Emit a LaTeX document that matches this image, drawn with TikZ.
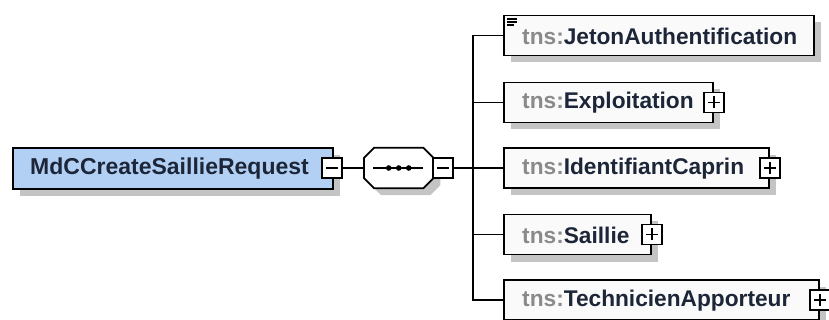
\documentclass[tikz,border=0pt]{standalone}
\usepackage{fontspec}
\setmainfont{Liberation Sans}
\usetikzlibrary{calc}
\definecolor{boxblue}{HTML}{B2D0F4}
\definecolor{shadowgray}{HTML}{C4C4C4}
\definecolor{navy}{HTML}{1C2638}
\definecolor{nsgray}{HTML}{8A8A8A}
\definecolor{childfill}{HTML}{FAFAFA}
\tikzset{
  x=1pt, y=-1pt,
  shadowed/.style={preaction={fill=shadowgray, transform canvas={shift={(7pt,-7pt)}}}},
  mainbox/.style={draw=black, line width=1.8pt, fill=boxblue, shadowed, minimum height=41pt, inner sep=0pt, anchor=west},
  childbox/.style={draw=black, line width=1.8pt, fill=childfill, shadowed, minimum height=40pt, inner sep=0pt, anchor=west},
  lbl/.style={anchor=west, inner sep=0pt, font=\bfseries\fontsize{22.7}{25}\selectfont, text=navy},
  pm/.style={draw=black, line width=1.6pt, fill=white, minimum size=20pt, inner sep=0pt},
  pmline/.style={line width=1.6pt},
  conn/.style={line width=1.8pt},
}
\newcommand{\ns}{\textcolor{nsgray}{tns:}}
\begin{document}
\begin{tikzpicture}
\useasboundingbox (0,0) rectangle (829,320);
% main element
\node[mainbox, minimum width=320pt] (main) at (12,168.5) {};
\node[lbl, font=\bfseries\fontsize{23}{25}\selectfont] (mainlbl) at (30,168.5) {MdCCreateSaillieRequest};
\node[pm] (mainpm) at (332,168) {};
\draw[pmline] ([xshift=-6pt]mainpm.center) -- ([xshift=6pt]mainpm.center);
% sequence compartment
\node[minimum width=69pt, minimum height=40pt, inner sep=0pt, anchor=west] (seq) at (364,168) {};
\fill[shadowgray, transform canvas={shift={(7pt,-7pt)}}]
  ([xshift=10pt]seq.north west) -- ([xshift=-10pt]seq.north east) -- ([yshift=-10pt]seq.north east) -- ([yshift=10pt]seq.south east) -- ([xshift=-10pt]seq.south east) -- ([xshift=10pt]seq.south west) -- ([yshift=10pt]seq.south west) -- ([yshift=-10pt]seq.north west) -- cycle;
\draw[line width=1.8pt, fill=white]
  ([xshift=10pt]seq.north west) -- ([xshift=-10pt]seq.north east) -- ([yshift=-10pt]seq.north east) -- ([yshift=10pt]seq.south east) -- ([xshift=-10pt]seq.south east) -- ([xshift=10pt]seq.south west) -- ([yshift=10pt]seq.south west) -- ([yshift=-10pt]seq.north west) -- cycle;
\draw[line width=1.5pt] ([xshift=9pt]seq.west) -- ([xshift=-10pt]seq.east);
\foreach \dx in {-10,0,10} \fill ([xshift=\dx pt]seq.center) circle (2.8pt);
\node[pm] (seqpm) at (443,168) {};
\draw[pmline] ([xshift=-6pt]seqpm.center) -- ([xshift=6pt]seqpm.center);
\draw[conn] (mainpm.east) -- (seq.west);
\coordinate (bus) at (473,168);
\coordinate (bustop) at (473,35.5);
\coordinate (busbot) at (473,300);
\draw[conn] (seqpm.east) -- (bus);
\draw[conn, line cap=rect] (bustop) -- (busbot);
% children
\node[childbox, minimum width=310pt] (c1) at (503,35.5) {};
\node[lbl] (l1) at (522,36) {\ns JetonAuthentification};
\draw[line width=1.4pt] (507,19) -- (517,19) (507,22) -- (517,22) (507,25) -- (514,25);
\node[childbox, minimum width=209pt] (c2) at (503,102.5) {};
\node[lbl] (l2) at (522,103) {\ns Exploitation};
\node[childbox, minimum width=265pt] (c3) at (503,168) {};
\node[lbl] (l3) at (522,168.5) {\ns IdentifiantCaprin};
\node[childbox, minimum width=147pt] (c4) at (503,234.5) {};
\node[lbl] (l4) at (522,235) {\ns Saillie};
\node[childbox, minimum width=315pt] (c5) at (503,300) {};
\node[lbl] (l5) at (522,300.5) {\ns TechnicienApporteur};
\foreach \n/\p in {c2/p2,c3/p3,c4/p4,c5/p5} {
  \node[pm] (\p) at (\n.east) {};
  \draw[pmline] ([xshift=-6pt]\p.center) -- ([xshift=6pt]\p.center) ([yshift=-6pt]\p.center) -- ([yshift=6pt]\p.center);
}
\foreach \n in {c1,c2,c3,c4,c5} \draw[conn] (\n.west -| bus) -- (\n.west);
\end{tikzpicture}
\end{document}
